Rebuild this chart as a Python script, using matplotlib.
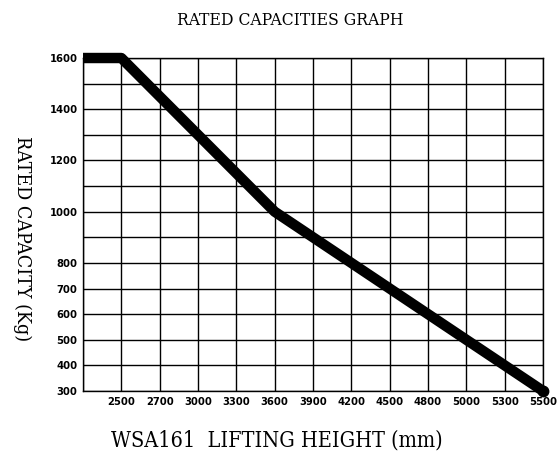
import matplotlib.pyplot as plt

# tick labels (evenly spaced categories as on the chart)
x_labels = [2500, 2700, 3000, 3300, 3600, 3900, 4200, 4500, 4800, 5000, 5300, 5500]
y_labels = [300, 400, 500, 600, 700, 800, '', 1000, '', 1200, '', 1400, '', 1600]

# capacity curve: lifting height -> rated capacity
curve_height = [2500, 3600, 5500]
curve_cap = [1600, 1000, 300]

def xpos(h):
    return x_labels.index(h) + 1

def ypos(c):
    return y_labels.index(c)

title_font = dict(family='DejaVu Serif', stretch='condensed')
tick_font = dict(family='DejaVu Sans', weight='heavy', stretch='condensed', size=8)

fig = plt.figure(figsize=(5.59, 4.55), dpi=100)
ax = fig.add_axes([0.1485, 0.1407, 0.8229, 0.7318])

ax.set_xlim(0, len(x_labels))
ax.set_ylim(0, len(y_labels) - 1)
ax.set_xticks(range(0, len(x_labels) + 1))
ax.set_xticklabels([''] + [str(v) for v in x_labels], **tick_font)
ax.set_yticks(range(len(y_labels)))
ax.set_yticklabels([str(v) for v in y_labels], **tick_font)
ax.tick_params(length=0, pad=4)
ax.grid(True, color='black', linewidth=1)
for s in ax.spines.values():
    s.set_linewidth(1)

# flat part from the left edge, then the decline
xs = [0] + [xpos(h) for h in curve_height]
ys = [ypos(curve_cap[0])] + [ypos(c) for c in curve_cap]
ax.plot(xs, ys, color='black', linewidth=7.5, solid_capstyle='butt',
        solid_joinstyle='round', clip_on=False)
# rounded end of the curve
ax.plot(xs[-1:], ys[-1:], 'o', color='black', markersize=7.5, clip_on=False)

fig.text(0.52, 0.955, 'RATED CAPACITIES GRAPH', ha='center', va='center', size=12.5, **title_font)
fig.text(0.495, 0.032, 'WSA161  LIFTING HEIGHT (mm)', ha='center', va='center', size=15.5, **title_font)
fig.text(0.04, 0.475, 'RATED CAPACITY (Kg)', rotation=-90, ha='center', va='center', size=14, **title_font)

fig.savefig('out.png', dpi=100)
